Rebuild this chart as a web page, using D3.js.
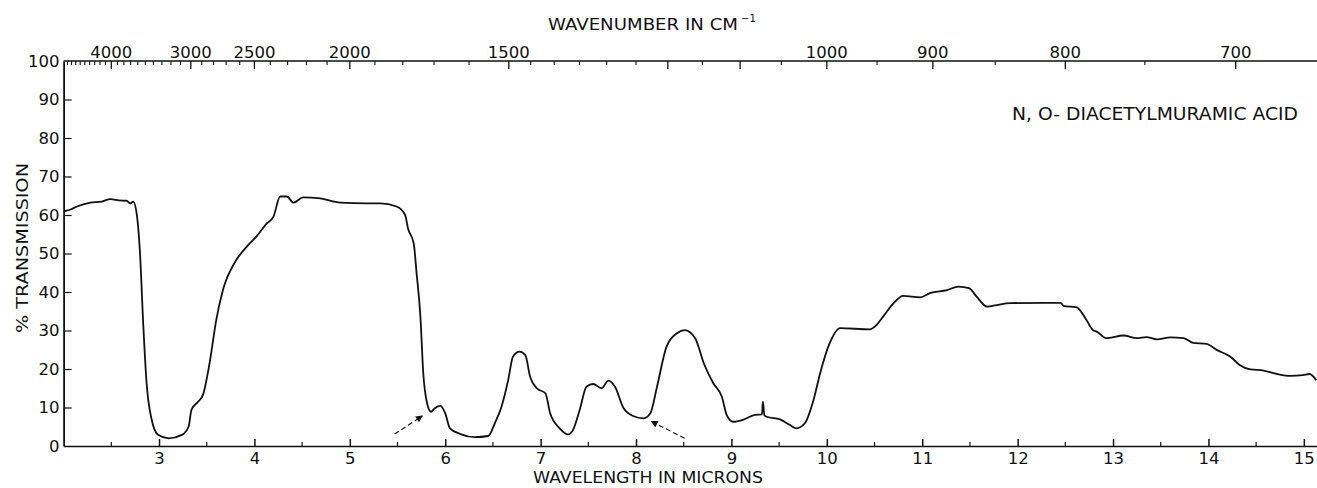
<!DOCTYPE html>
<html><head><meta charset="utf-8">
<script src="https://cdn.jsdelivr.net/npm/d3@7"></script>
<style>
html,body{margin:0;padding:0;background:#fff;}
svg{display:block;}
text{font-family:"DejaVu Sans",sans-serif;fill:#111;font-weight:400;}
</style></head><body>
<svg id="c" width="1317" height="488"></svg>
<script>
// ---- data ----
const wavelength = [2.01,2.08,2.14,2.28,2.40,2.49,2.58,2.66,2.70,2.73,2.77,2.80,2.835,2.87,2.92,2.99,3.10,3.24,3.31,3.34,3.41,3.46,3.53,3.60,3.67,3.80,3.92,4.02,4.13,4.20,4.27,4.34,4.41,4.51,4.69,4.90,5.18,5.32,5.49,5.58,5.61,5.67,5.70,5.74,5.77,5.81,5.85,5.89,5.95,6.00,6.05,6.16,6.31,6.45,6.52,6.59,6.66,6.71,6.78,6.84,6.89,6.96,7.05,7.10,7.20,7.29,7.34,7.41,7.48,7.55,7.64,7.71,7.78,7.87,7.97,8.08,8.15,8.22,8.32,8.43,8.51,8.62,8.71,8.81,8.90,8.95,9.02,9.12,9.25,9.32,9.33,9.345,9.37,9.51,9.61,9.68,9.77,9.86,9.93,10.03,10.14,10.45,10.52,10.59,10.70,10.80,10.98,11.08,11.26,11.38,11.49,11.57,11.68,11.78,11.92,12.27,12.45,12.48,12.62,12.71,12.79,12.83,12.93,13.11,13.25,13.35,13.46,13.60,13.74,13.84,13.98,14.09,14.23,14.33,14.44,14.58,14.72,14.86,14.99,15.06,15.13];
const transmission = [61.0,61.5,62.2,63.2,63.5,64.1,63.8,63.7,63.0,63.5,59.6,50.5,31.5,16.3,7.2,2.9,2.0,2.9,5.0,9.4,11.5,13.2,21.5,32.7,40.5,47.9,51.8,54.4,57.8,59.6,64.8,64.8,63.2,64.6,64.3,63.2,63.0,63.0,62.2,60.0,56.5,52.6,44.9,33.6,18.9,11.1,8.9,9.8,10.4,8.5,4.6,3.1,2.3,2.6,5.9,10.2,17.1,23.2,24.5,23.6,18.0,15.0,13.7,8.5,4.6,3.0,4.2,9.4,15.4,16.1,15.0,17.0,15.4,9.8,7.8,7.2,8.5,15.4,25.8,29.3,30.1,28.0,21.5,16.3,12.8,8.1,6.3,6.8,8.1,8.2,11.5,8.0,7.6,6.9,5.5,4.6,5.9,11.9,18.9,26.7,30.6,30.3,31.4,33.6,37.1,39.0,38.6,39.7,40.5,41.4,41.0,38.8,36.2,36.6,37.1,37.2,37.2,36.4,36.0,33.2,30.1,29.7,28.0,28.7,28.0,28.3,27.7,28.2,28.0,26.8,26.5,24.9,23.2,21.0,19.9,19.6,18.7,18.2,18.4,18.7,17.1];

const bottomTickLabels = [3,4,5,6,7,8,9,10,11,12,13,14,15];
const bottomMinorTicks = [2.5,3.5,4.5,5.5,6.5,7.5,8.5,9.5,10.5,11.5,12.5,13.5,14.5];
const yTickLabels = [0,10,20,30,40,50,60,70,80,90,100];
const topTickLabels = [4000,3000,2500,2000,1500,1000,900,800,700];
const topMajorUnlabeled = [1200,1100];
const topMinorTicks = [4900,4800,4700,4600,4500,4400,4300,4200,4100,3900,3800,3700,3600,3500,3400,3300,3200,3100,2900,2800,2700,2600,2400,2300,2200,2100,1900,1800,1700,1600,1450,1400,1350,1300,1250,1150,1050,950,850,750];
const arrowFrom = [[5.47,3.1],[8.51,2.0]];
const arrowTo = [[5.76,7.8],[8.16,6.4]];

const titleText = "N, O- DIACETYLMURAMIC  ACID";
const xTitle = "WAVELENGTH IN MICRONS";
const topTitle = "WAVENUMBER IN CM";
const yTitle = "% TRANSMISSION";

// ---- layout ----
const svg = d3.select("#c");
const x = d3.scaleLinear().domain([2, 15.14]).range([63.6, 1317.2]);
const y = d3.scaleLinear().domain([0, 100]).range([446, 61]);
const ink = "#111";

// bottom axis
const gB = svg.append("g").attr("transform", `translate(0,${y(0)})`)
  .call(d3.axisBottom(x).tickValues(bottomTickLabels).tickSizeInner(-7).tickSizeOuter(0).tickPadding(6).tickFormat(d3.format("d")));
gB.selectAll("text").attr("font-size", 16.5).attr("fill", ink).style("font-family","DejaVu Sans");
gB.selectAll("line,path").attr("stroke", ink).attr("stroke-width", 1.5);
svg.append("g").attr("transform", `translate(0,${y(0)})`)
  .selectAll("line").data(bottomMinorTicks).join("line")
  .attr("x1", d => x(d)).attr("x2", d => x(d)).attr("y1", 0).attr("y2", -4)
  .attr("stroke", ink).attr("stroke-width", 1.2);

// left axis
const gL = svg.append("g").attr("transform", `translate(${x(2)},0)`)
  .call(d3.axisLeft(y).tickValues(yTickLabels).tickSizeInner(-8).tickSizeOuter(0).tickPadding(4).tickFormat(d3.format("d")));
gL.selectAll("text").attr("font-size", 16.5).attr("fill", ink).style("font-family","DejaVu Sans");
gL.selectAll("path").attr("stroke", ink).attr("stroke-width", 1.8);
gL.selectAll("line").attr("stroke", ink).attr("stroke-width", 1.2);
gL.selectAll(".tick").filter(d => d === 0 || d === 100).select("line").remove();

// top axis (wavenumber = 10000 / wavelength)
const gT = svg.append("g");
gT.append("line").attr("x1", x(2)).attr("x2", x(15.14)).attr("y1", y(100)).attr("y2", y(100))
  .attr("stroke", ink).attr("stroke-width", 1.5);
gT.selectAll("line.maj").data(topTickLabels.concat(topMajorUnlabeled)).join("line").attr("class","maj")
  .attr("x1", d => x(10000/d)).attr("x2", d => x(10000/d)).attr("y1", y(100)).attr("y2", y(100)+8)
  .attr("stroke", ink).attr("stroke-width", 1.3);
gT.selectAll("line.min").data(topMinorTicks).join("line").attr("class","min")
  .attr("x1", d => x(10000/d)).attr("x2", d => x(10000/d)).attr("y1", y(100)).attr("y2", y(100)+4)
  .attr("stroke", ink).attr("stroke-width", 1.1);
gT.selectAll("text").data(topTickLabels).join("text")
  .attr("x", d => x(10000/d)).attr("y", y(100)-3).attr("text-anchor","middle")
  .attr("font-size", 16.5).text(d => d);

// titles
svg.append("text").attr("x", 548).attr("y", 30).attr("font-size", 16.5)
  .attr("textLength", 190).attr("lengthAdjust","spacingAndGlyphs").text(topTitle);
svg.append("text").attr("x", 741).attr("y", 22).attr("font-size", 10).text("\u22121");
svg.append("text").attr("x", 533).attr("y", 483).attr("font-size", 16.5)
  .attr("textLength", 230).attr("lengthAdjust","spacingAndGlyphs").text(xTitle);
svg.append("text").attr("x", 1012).attr("y", 120).attr("font-size", 17.5)
  .attr("textLength", 286).attr("lengthAdjust","spacingAndGlyphs").text(titleText);
svg.append("text").attr("transform", "translate(28,333) rotate(-90)").attr("font-size", 16.5)
  .attr("textLength", 170).attr("lengthAdjust","spacingAndGlyphs").text(yTitle);

// spectrum
const pts = wavelength.map((w, i) => [w, transmission[i]]);
svg.append("path").datum(pts)
  .attr("d", d3.line().x(d => x(d[0])).y(d => y(d[1])).curve(d3.curveMonotoneX))
  .attr("fill", "none").attr("stroke", ink).attr("stroke-width", 1.8).attr("stroke-linejoin","round");

// arrows
svg.append("defs").append("marker").attr("id","ah").attr("viewBox","0 0 10 10")
  .attr("refX", 9).attr("refY", 5).attr("markerWidth", 9).attr("markerHeight", 7)
  .attr("markerUnits","userSpaceOnUse").attr("orient","auto")
  .append("path").attr("d","M0,0 L10,5 L0,10 z").attr("fill", ink);
svg.selectAll("line.arrow").data(arrowFrom.map((f,i) => [f, arrowTo[i]])).join("line").attr("class","arrow")
  .attr("x1", d => x(d[0][0])).attr("y1", d => y(d[0][1]))
  .attr("x2", d => x(d[1][0])).attr("y2", d => y(d[1][1]))
  .attr("stroke", ink).attr("stroke-width", 1.1).attr("stroke-dasharray","5,3")
  .attr("marker-end","url(#ah)");
</script>
</body></html>
